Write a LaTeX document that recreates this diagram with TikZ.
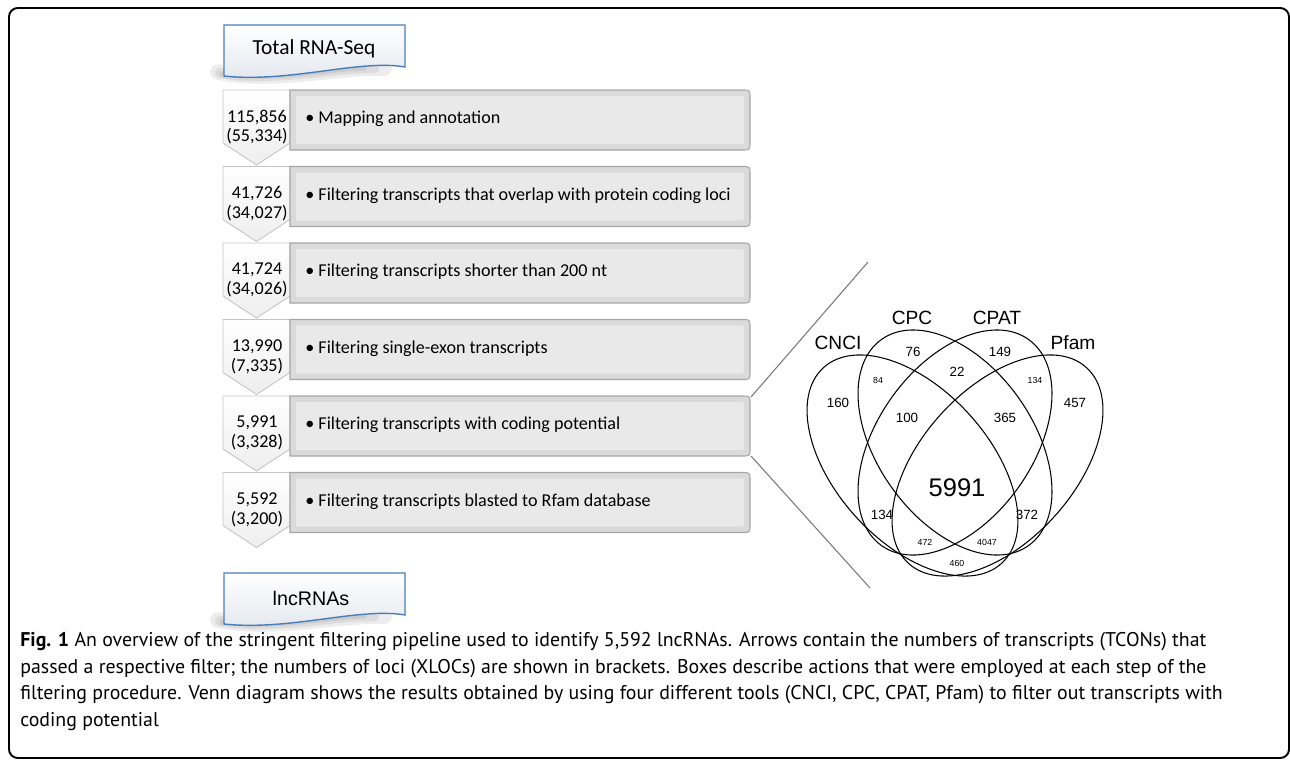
\documentclass[tikz,border=0pt]{standalone}
\usepackage{fontspec}
\setmainfont{Carlito}
\newfontfamily\arialfont{Liberation Sans}
\newfontfamily\capfont{PT Sans}
\usetikzlibrary{positioning}

\definecolor{docblue}{RGB}{74,126,187}
\definecolor{boxgrey}{RGB}{166,166,166}
\definecolor{boxfill}{RGB}{218,218,218}
\definecolor{boxface}{RGB}{233,233,233}
\definecolor{arrowgrey}{RGB}{196,196,196}
\definecolor{zoomgrey}{RGB}{120,120,120}

\tikzset{
  figframe/.style={line width=1.1pt, rounded corners=5pt},
  docbox/.style={draw=docblue, line width=0.8pt, top color=white, bottom color={rgb,255:red,226;green,231;blue,238}},
  docshadow/.style={draw=black, opacity=0.07, line cap=round},
  doctext/.style={inner sep=0pt, font=\fontsize{12.2}{14}\selectfont},
  countarrow/.style={draw=arrowgrey, line width=0.5pt, top color=white, bottom color={rgb,255:red,238;green,238;blue,238}},
  stepbox/.style={draw=boxgrey, line width=0.6pt, fill=boxfill},
  stepface/.style={fill=boxface},
  counttext/.style={inner sep=0pt, align=center, font=\fontsize{10.3}{11.3}\selectfont},
  steptext/.style={inner sep=0pt, anchor=west, font=\fontsize{10.3}{12}\selectfont},
  zoomline/.style={draw=zoomgrey, line width=0.6pt},
  vennset/.style={line width=0.6pt},
  vennlabel/.style={inner sep=0pt, font=\arialfont\fontsize{10.9}{12}\selectfont},
  vennnum/.style={inner sep=0pt, font=\arialfont\fontsize{7.6}{9}\selectfont},
  venntiny/.style={inner sep=0pt, font=\arialfont\fontsize{5}{6}\selectfont},
  pics/filterstep/.style={code={
    \draw [countarrow] (-67,0) -- (0,0) -- (0,53) -- (-33.5,75) -- (-67,53) -- cycle;
    \draw [stepbox] (0,0) -- (452,0) .. controls (460,0) .. (460,8) -- (460,52)
       .. controls (460,60) .. (452,60) -- (0,60) -- cycle;
    \fill [stepface] (6,6) -- (449,6) .. controls (454,6) .. (454,11) -- (454,49)
       .. controls (454,54) .. (449,54) -- (6,54) -- cycle;
  }},
  pics/docshade/.style={code={
    \draw [docshadow, line width=9pt] (-6,47) .. controls (50,58) and (110,42) .. (160,43);
    \draw [docshadow, line width=6pt] (-4,48) .. controls (50,57) and (110,42) .. (150,43);
    \draw [docshadow, line width=3pt] (-2,49) .. controls (50,56) and (110,43) .. (140,43);
  }}
}

\begin{document}
\begin{tikzpicture}[x=0.02cm,y=-0.02cm]
\useasboundingbox (0,0) rectangle (1290,761);

\draw [figframe] (9,8) rectangle (1289,758);

% input and output
\pic at (224,25) {docshade};
\draw [docbox] (224,25) -- (405,25) -- (405,67) .. controls (360,59) and (290,83) .. (224,76) -- cycle;
\node [doctext] (rna-seq) at (314,49) {Total RNA-Seq};

\pic at (224,573) {docshade};
\draw [docbox] (224,573) -- (405,573) -- (405,615) .. controls (360,607) and (290,631) .. (224,624) -- cycle;
\node [doctext, font=\arialfont\fontsize{11.2}{13}\selectfont] (lncrna) at (311,598) {lncRNAs};

% filter steps
\pic at (290,90) {filterstep};
\node [counttext] (count-1) at (257,127) {115,856\\(55,334)};
\node [steptext] (step-1) at (305,119) {\textbullet\ Mapping and annotation};

\pic at (290,166.5) {filterstep};
\node [counttext] (count-2) at (257,203.5) {41,726\\(34,027)};
\node [steptext] (step-2) at (305,195.5) {\textbullet\ Filtering transcripts that overlap with protein coding loci};

\pic at (290,243) {filterstep};
\node [counttext] (count-3) at (257,280) {41,724\\(34,026)};
\node [steptext] (step-3) at (305,272) {\textbullet\ Filtering transcripts shorter than 200 nt};

\pic at (290,319.5) {filterstep};
\node [counttext] (count-4) at (257,356.5) {13,990\\(7,335)};
\node [steptext] (step-4) at (305,348.5) {\textbullet\ Filtering single-exon transcripts};

\pic at (290,396) {filterstep};
\node [counttext] (count-5) at (257,433) {5,991\\(3,328)};
\node [steptext] (step-5) at (305,425) {\textbullet\ Filtering transcripts with coding potential};

\pic at (290,472.5) {filterstep};
\node [counttext] (count-6) at (257,509.5) {5,592\\(3,200)};
\node [steptext] (step-6) at (305,501.5) {\textbullet\ Filtering transcripts blasted to Rfam database};

% zoom into venn
\coordinate (step-5-ne) at (751,397);
\coordinate (step-5-se) at (751,456);
\coordinate (venn-top) at (868,262);
\coordinate (venn-bottom) at (870,588);
\draw [zoomline] (step-5-ne) -- (venn-top);
\draw [zoomline] (step-5-se) -- (venn-bottom);

% venn diagram
\draw [vennset, rotate around={-47.7:(912.5,465.5)}] (912.5,465.5) ellipse [x radius=132.3, y radius=76.4];
\draw [vennset, rotate around={47.7:(997.5,465.5)}] (997.5,465.5) ellipse [x radius=132.3, y radius=76.4];
\draw [vennset, rotate around={-54.5:(955,442.5)}] (955,442.5) ellipse [x radius=126.6, y radius=77.7];
\draw [vennset, rotate around={54.5:(955,442.5)}] (955,442.5) ellipse [x radius=126.6, y radius=77.7];

\node [vennlabel] (cnci) at (838,343) {CNCI};
\node [vennlabel] (cpc) at (912,318) {CPC};
\node [vennlabel] (cpat) at (997,318) {CPAT};
\node [vennlabel] (pfam) at (1073,343) {Pfam};

\node [vennnum] (n-76) at (913,352) {76};
\node [vennnum] (n-149) at (1000,352) {149};
\node [vennnum] (n-22) at (957,372) {22};
\node [venntiny] (n-84) at (878,380) {84};
\node [venntiny] (n-134a) at (1035,380) {134};
\node [vennnum] (n-160) at (838,403) {160};
\node [vennnum] (n-457) at (1075,403) {457};
\node [vennnum] (n-100) at (907,418) {100};
\node [vennnum] (n-365) at (1005,418) {365};
\node [inner sep=0pt, font=\arialfont\fontsize{14.5}{16}\selectfont] (n-5991) at (957,488) {5991};
\node [vennnum] (n-134b) at (882,515) {134};
\node [vennnum] (n-372) at (1027,515) {372};
\node [venntiny] (n-472) at (925,542) {472};
\node [venntiny] (n-4047) at (987,542) {4047};
\node [venntiny] (n-460) at (957,563) {460};

%%%%%%%%%%%%%%%%%%%%%%%%%%%%%%%%%%%%%%%%%%%%%%%%%%%%%%%%%%%%%%%%%

\node [anchor=north west, inner sep=0pt, align=left, font=\capfont\fontsize{11.3}{15.1}\selectfont] (caption) at (20,632)
  {\textbf{Fig. 1} An overview of the stringent filtering pipeline used to identify 5,592 lncRNAs. Arrows contain the numbers of transcripts (TCONs) that\\
   passed a respective filter; the numbers of loci (XLOCs) are shown in brackets. Boxes describe actions that were employed at each step of the\\
   filtering procedure. Venn diagram shows the results obtained by using four different tools (CNCI, CPC, CPAT, Pfam) to filter out transcripts with\\
   coding potential};

\end{tikzpicture}
\end{document}
